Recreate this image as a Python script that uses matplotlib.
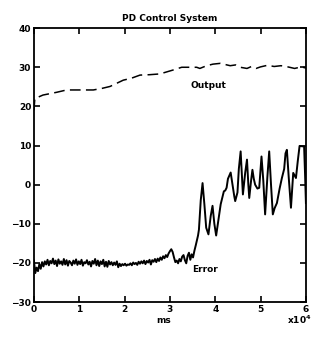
import numpy as np
import matplotlib
matplotlib.use("Agg")
import matplotlib.pyplot as plt

# error signal: noisy flat part sampled every 0.03 (x10^4 ms)
flat_vals = [
    -19.4, -22.6, -21.2, -22.1, -20.3, -21.5, -19.8, -20.9, -19.6, -20.4,
    -19.2, -20.6, -19.5, -20.1, -18.9, -20.3, -19.4, -20.8, -19.1, -20.2,
    -19.6, -20.5, -19.0, -20.4, -19.3, -20.7, -19.5, -19.9, -20.6, -19.4,
    -20.2, -19.1, -20.5, -19.6, -20.3, -19.2, -20.7, -19.8, -20.1, -19.3,
    -20.4, -19.7, -20.9, -19.5, -20.2, -19.0, -20.6, -19.4, -20.8, -19.6,
    -20.3, -19.2, -20.9, -19.7, -21.0, -19.5, -20.4, -19.8, -20.6, -19.9,
    -20.5, -19.6, -21.1, -20.2, -20.8, -20.3, -20.6, -20.2, -20.7, -20.4,
    -20.5, -20.1, -20.6, -19.9, -20.3, -20.0, -20.5, -19.7, -20.2, -19.6,
    -20.1, -19.4, -20.3, -19.5, -19.9, -19.2, -20.4, -19.3, -19.7, -19.0,
    -19.8, -18.9, -19.5, -18.6, -19.2, -18.3, -18.8, -18.0, -18.5, -17.6,
    -17.0, -16.5, -17.2, -18.6, -19.8, -19.4, -20.1, -19.0, -19.6, -18.4,
    -18.0, -19.3, -20.1, -18.2, -17.4, -19.2, -17.8, -18.6, -16.9, -15.5,
]
flat_t = list(np.round(np.arange(len(flat_vals)) * 0.03, 2))

# error signal after the jump
jump_t = [3.62, 3.64, 3.68, 3.72, 3.76, 3.80, 3.85, 3.90, 3.94, 3.98,
          4.02, 4.07, 4.12, 4.19, 4.22, 4.25, 4.28, 4.34, 4.38, 4.42,
          4.44, 4.49, 4.52, 4.56, 4.59, 4.61, 4.66, 4.70, 4.73, 4.75,
          4.79, 4.82, 4.85, 4.88, 4.93, 4.97, 5.02, 5.06, 5.10, 5.15,
          5.19, 5.23, 5.27, 5.31, 5.36, 5.42, 5.47, 5.52, 5.55, 5.58,
          5.62, 5.67, 5.72, 5.78, 5.82, 5.86, 5.92, 5.96, 5.98, 6.00]
jump_vals = [-13, -11.5, -4, 0.4, -5, -11, -12.7, -8, -5.4, -10,
             -13, -9, -5, -1.7, -1.5, -0.8, 1.5, 3.1, 0, -3,
             -4.2, -2, 4, 8.5, 2, -2.5, 3, 6.4, 0, -3.4,
             1, 3.8, 1.5, 0, -1, -0.8, 7.2, 1, -7.6, 2,
             8.5, 0, -7.6, -6, -4.7, -1, 1.7, 4, 8, 8.9,
             2, -5.9, 3, 1.7, 6, 9.9, 9.8, 9.8, 3, -4.7]

err_t = flat_t + jump_t
err_v = flat_vals + jump_vals

# output signal (dashed)
out_t = [0.0, 0.02, 0.2, 0.5, 0.72, 1.0, 1.31, 1.5, 1.68, 1.97, 2.15, 2.34,
         2.55, 2.78, 3.07, 3.26, 3.45, 3.59, 3.66, 3.81, 3.95, 4.11, 4.33,
         4.45, 4.55, 4.7, 4.8, 4.9, 5.0, 5.15, 5.3, 5.45, 5.6, 5.75, 5.9, 6.0]
out_v = [19.0, 22.0, 22.9, 23.6, 24.2, 24.2, 24.2, 24.6, 25.1, 26.7, 27.2, 28.0,
         28.1, 28.3, 29.3, 30.0, 30.0, 30.0, 29.7, 30.4, 30.8, 31.0, 30.4,
         30.6, 30.0, 29.7, 30.2, 29.7, 30.1, 30.5, 30.2, 30.4, 30.1, 29.7, 30.1, 29.8]

plt.rcParams['font.family'] = ['DejaVu Sans']
plt.rcParams['font.weight'] = 'bold'

fig = plt.figure(figsize=(3.2, 3.39), dpi=100)
ax = fig.add_axes([0.106, 0.109, 0.85, 0.808])

ax.plot(err_t, err_v, color="black", lw=1.4)
ax.plot(out_t, out_v, color="black", lw=1.1, dashes=(7, 3.5))

ax.set_xlim(0, 6)
ax.set_ylim(-30, 40)
ax.set_xticks(range(0, 7))
ax.set_yticks(range(-30, 41, 10))
ax.tick_params(direction="in", length=4, width=1.2, labelsize=6.5,
               top=True, right=True, pad=2)
for s in ax.spines.values():
    s.set_linewidth(1.3)

ax.set_title("PD Control System", fontsize=6.5, fontweight="bold", pad=5)
ax.text(3.84, 25.4, "Output", fontsize=6.5, ha="center", va="center")
ax.text(3.48, -21.8, "Error", fontsize=6.5, ha="left", va="center")
fig.text(0.51, 0.056, "ms", fontsize=6.5, ha="center", va="center")
fig.text(0.935, 0.056, r"x10$^4$", fontsize=6.5, ha="center", va="center")

fig.savefig("out.png", dpi=100)
